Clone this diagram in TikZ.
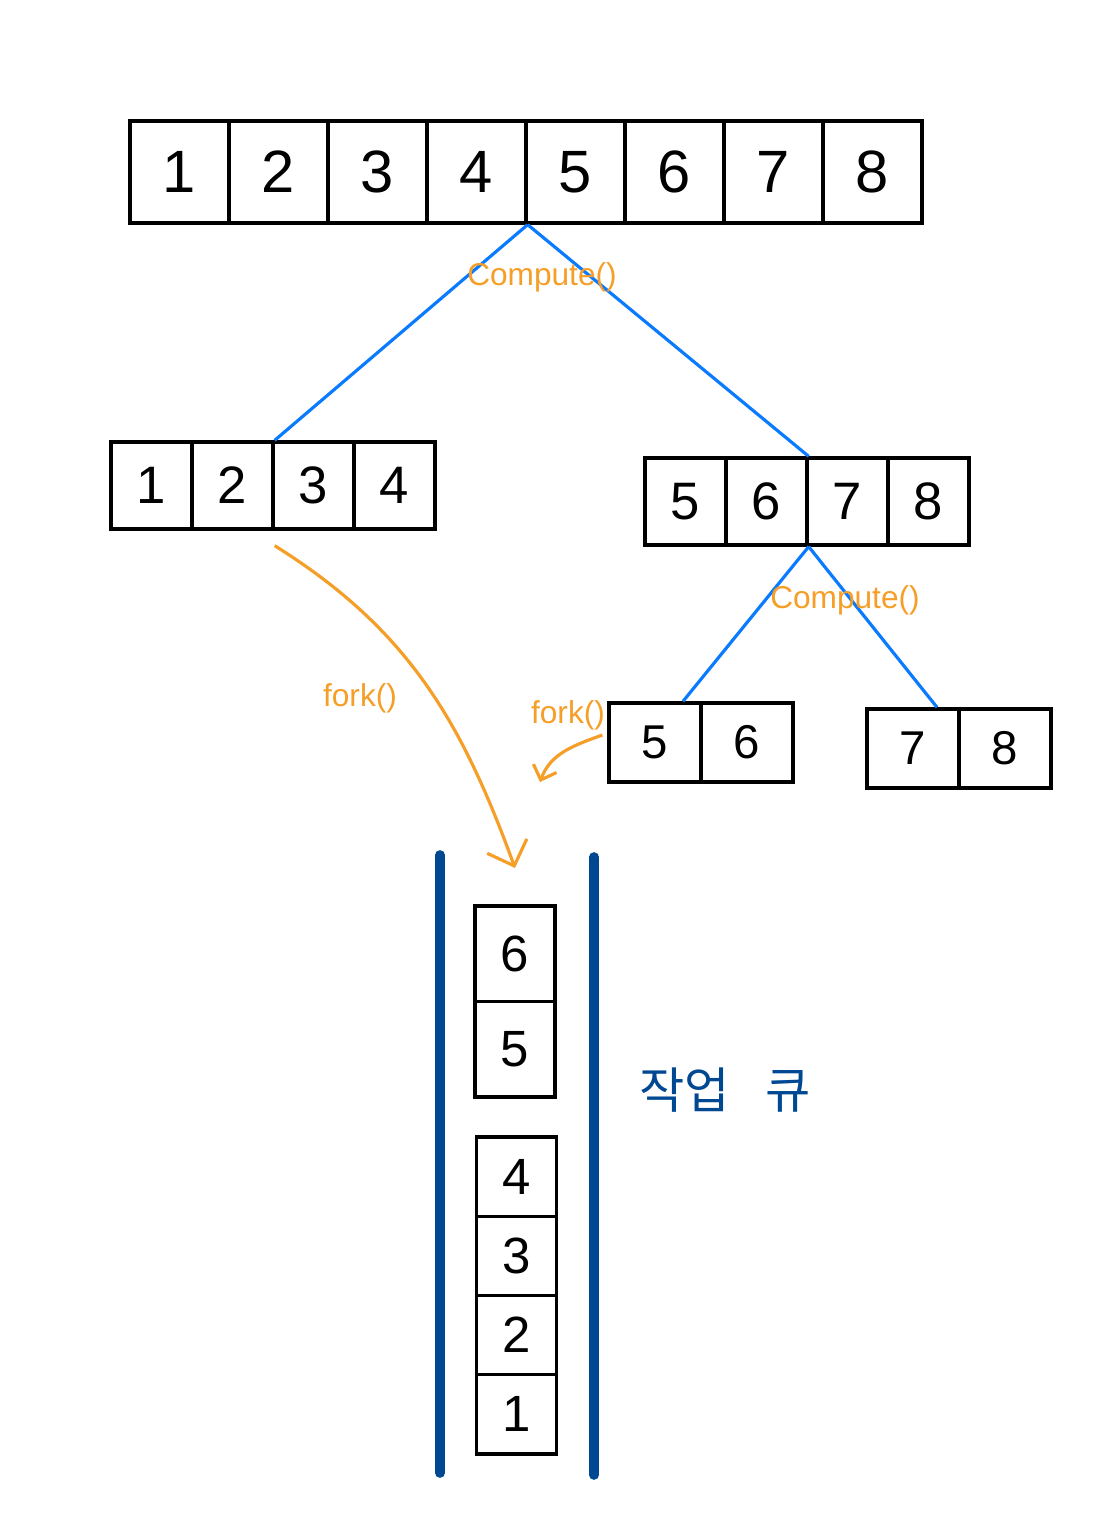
\documentclass[tikz,border=0pt]{standalone}
\usepackage{fontspec}
\setmainfont{Liberation Sans}
\newfontfamily\kfont{Noto Sans CJK KR}
\usepackage{tikz}
\usetikzlibrary{arrows.meta, calc}
\definecolor{forkorange}{RGB}{245, 158, 40}
\definecolor{splitblue}{RGB}{10, 122, 255}
\definecolor{queueblue}{RGB}{0, 72, 145}

\begin{document}
\begin{tikzpicture}[
    x=0.02cm, y=-0.02cm,
    cell/.style={rectangle, draw=black, line width=1.9pt, inner sep=0pt},
    topcell/.style={cell, minimum width=1.98cm, minimum height=2.04cm, font=\fontsize{34}{34}\selectfont},
    midcell/.style={cell, minimum width=1.62cm, minimum height=1.74cm, font=\fontsize{30}{30}\selectfont},
    lowcell/.style={cell, minimum width=1.84cm, minimum height=1.58cm, font=\fontsize{27}{27}\selectfont},
    qcell/.style={cell, minimum width=1.6cm, font=\fontsize{29}{29}\selectfont},
    split/.style={splitblue, line width=1.8pt},
    hand/.style={forkorange, font=\fontsize{18}{18}\selectfont},
    arr/.style={-{Straight Barb[length=12pt, width=24pt]}, forkorange, line width=1.8pt},
    arrsmall/.style={-{Straight Barb[length=7pt, width=14pt]}, forkorange, line width=1.8pt},
    wall/.style={queueblue, line width=5.5pt, line cap=round}
]
\useasboundingbox (0, 0) rectangle (1099, 1527);

% whole array
\foreach \n in {1,...,8} {
    \node[topcell] (t\n) at ({80.5+99*\n}, 172) {\n};
}

% halves
\foreach \n in {1,...,4} {
    \node[midcell] (l\n) at ({70.5+81*\n}, 485.5) {\n};
}
\foreach \n in {5,...,8} {
    \node[midcell] (r\n) at ({280.5+81*\n}, 501.5) {\n};
}

% quarters of the right half
\foreach \n/\x/\y in {5/655/742.5, 6/747/742.5, 7/913/748.5, 8/1005/748.5} {
    \node[lowcell] (b\n) at (\x, \y) {\n};
}

% splits
\draw[split] (t4.south east) -- (l2.north east);
\draw[split] (t4.south east) -- (r6.north east);
\draw[split] (r6.south east) -- ([xshift=0.56cm]b5.north);
\draw[split] (r6.south east) -- ([xshift=0.48cm]b7.north);
\node[hand] (c1) at (542, 277) {Compute()};
\node[hand] (c2) at (845, 600) {Compute()};

% work queue
\draw[wall] (440, 855) -- (440, 1473);
\draw[wall] (594, 857) -- (594, 1475);
\foreach \n/\y in {6/953.75, 5/1049.25} {
    \node[qcell, minimum height=1.91cm] (q\n) at (515, \y) {\n};
}
\foreach \n/\y in {4/1176.6, 3/1255.9, 2/1335.1, 1/1414.4} {
    \node[qcell, minimum height=1.585cm] (q\n) at (516.5, \y) {\n};
}
\node[queueblue, font=\kfont\fontsize{28}{28}\selectfont] (qname) at (725, 1090) {작업\hspace{0.7cm}큐};

% forks
\coordinate (qin) at (515, 868);
\coordinate (fk) at (540, 782);
\draw[arr] ([yshift=-0.3cm]l2.south east) to[out=-32, in=110] (qin);
\draw[arrsmall] ([xshift=-0.1cm, yshift=0.15cm]b5.west) to[out=200, in=70] (fk);
\node[hand] (f1) at (360, 698) {fork()};
\node[hand] (f2) at (568, 715) {fork()};

\end{tikzpicture}
\end{document}
